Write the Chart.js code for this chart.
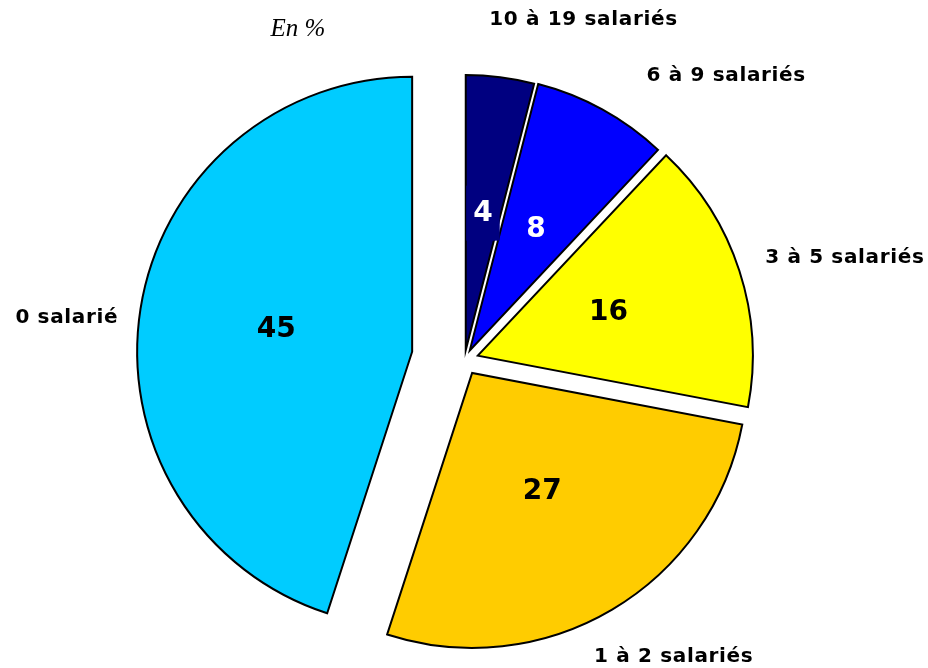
<!DOCTYPE html>
<html>
<head>
<meta charset="utf-8">
<script src="https://cdn.jsdelivr.net/npm/chart.js@4.4.1/dist/chart.umd.min.js"></script>
<style>
  html, body { margin: 0; padding: 0; background: #ffffff; }
  #wrap { width: 928px; height: 668px; }
</style>
</head>
<body>
<div id="wrap"><canvas id="chart" width="928" height="668"></canvas></div>
<script>
// Firms by number of employees, share in %
const categories = ['10 à 19 salariés', '6 à 9 salariés', '3 à 5 salariés', '1 à 2 salariés', '0 salarié'];
const shares = [4, 8, 16, 27, 45];
const unitNote = 'En %';

// Styling
const sliceColors = ['#000080', '#0000FF', '#FFFF00', '#FFCC00', '#00CCFF'];
const valueColors = ['#FFFFFF', '#FFFFFF', '#000000', '#000000', '#000000'];
const valueBoxed = [true, false, false, false, false];
// how far each slice is pulled out of the pie (px)
const explode = [10, 11, 14, 15, 53];
// category labels: turn away from the slice centre line (deg) and distance from the slice tip (px)
const labelTurn = [12.4, 14.2, 3, -4.8, -3.4];
const labelDist = [351, 376, 380, 348, 347];

const deg = Math.PI / 180;

// Moves every slice outwards along its own centre line
const explodePlugin = {
  id: 'explodeSlices',
  afterDatasetUpdate(chart, args) {
    const meta = chart.getDatasetMeta(args.index);
    meta.data.forEach((arc, i) => {
      const mid = (arc.startAngle + arc.endAngle) / 2;
      const d = explode[i] || 0;
      arc.x += Math.cos(mid) * d;
      arc.y += Math.sin(mid) * d;
    });
  }
};

// Values inside the slices, category names around the pie, unit note
const labelPlugin = {
  id: 'pieLabels',
  afterDatasetsDraw(chart) {
    const ctx = chart.ctx;
    const meta = chart.getDatasetMeta(0);
    ctx.save();
    ctx.textAlign = 'center';
    ctx.textBaseline = 'middle';

    meta.data.forEach((arc, i) => {
      const mid = (arc.startAngle + arc.endAngle) / 2;
      const r = arc.outerRadius * 0.5;
      const x = arc.x + Math.cos(mid) * r;
      const y = arc.y + Math.sin(mid) * r;
      const text = String(shares[i]);
      ctx.letterSpacing = '0px';
      ctx.font = 'bold 28px "DejaVu Sans"';
      if (valueBoxed[i]) {
        const w = ctx.measureText(text).width + 14;
        ctx.fillStyle = sliceColors[i];
        ctx.fillRect(x - w / 2, y - 28, w, 55);
      }
      ctx.fillStyle = valueColors[i];
      ctx.fillText(text, x, y);

      const a = mid + labelTurn[i] * deg;
      const lx = arc.x + Math.cos(a) * labelDist[i];
      const ly = arc.y + Math.sin(a) * labelDist[i];
      ctx.font = 'bold 20px "DejaVu Sans"';
      ctx.letterSpacing = '0.65px';
      ctx.fillStyle = '#000000';
      ctx.fillText(categories[i], lx, ly);
    });

    ctx.letterSpacing = '0px';
    ctx.font = 'italic 25px "Liberation Serif"';
    ctx.fillStyle = '#000000';
    ctx.fillText(unitNote, 298, 29);
    ctx.restore();
  }
};

new Chart(document.getElementById('chart'), {
  type: 'pie',
  data: {
    labels: categories,
    datasets: [{
      data: shares,
      backgroundColor: sliceColors,
      borderColor: '#000000',
      borderWidth: 2,
      borderJoinStyle: 'miter',
      hoverOffset: 0
    }]
  },
  options: {
    responsive: false,
    animation: false,
    events: [],
    radius: 275,
    rotation: 0,
    layout: { padding: { left: 1, right: 0, top: 52, bottom: 0 } },
    plugins: {
      legend: { display: false },
      title: { display: false },
      tooltip: { enabled: false }
    }
  },
  plugins: [explodePlugin, labelPlugin]
});
</script>
</body>
</html>
